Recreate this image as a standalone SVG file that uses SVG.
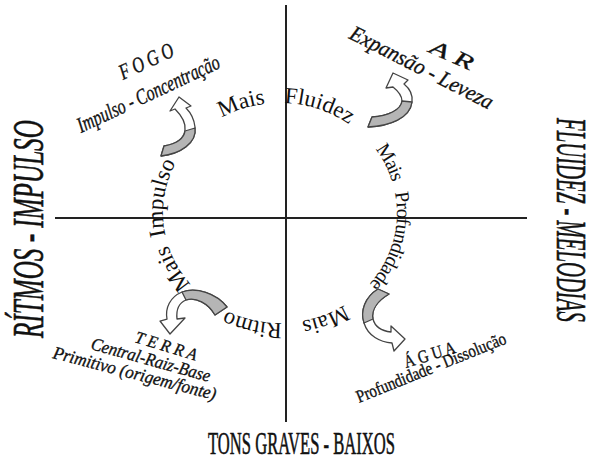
<svg xmlns="http://www.w3.org/2000/svg" width="596" height="460" viewBox="0 0 596 460">
<style>
.t{font-family:"Liberation Serif","DejaVu Serif","Times New Roman",serif;fill:#111}
.i{font-style:italic}
.h{stroke:#111;stroke-width:0.6}
.hs{stroke:#111;stroke-width:0.35}
.ax{stroke:#222;stroke-width:2}
.arw{fill:#fff;stroke:#444;stroke-width:1.3;stroke-linejoin:round}
.gry{fill:#b5b5b5;stroke:#444;stroke-width:1.3;stroke-linejoin:round}
.c{font-size:23px}
.r{font-size:20px;letter-spacing:-0.8px}
</style>
<defs>
<path id="ring" d="M163,213 A117,110 0 0 1 397,213 A117,110 0 0 1 163,213 A117,110 0 0 1 397,213 A117,110 0 0 1 163,213"/>
</defs>
<rect width="596" height="460" fill="#fff"/>
<g id="axes">
<line class="ax" x1="286" y1="5" x2="286" y2="422"/>
<line class="ax" x1="55" y1="218" x2="527" y2="218"/>
</g>
<g id="ring-labels" class="t c">
<text><textPath href="#ring" startOffset="140.6" text-anchor="middle">Mais</textPath></text>
<text><textPath href="#ring" startOffset="217" text-anchor="middle">Fluidez</textPath></text>
<text class="r"><textPath href="#ring" startOffset="306" text-anchor="middle">Mais</textPath></text>
<text class="r"><textPath href="#ring" startOffset="385" text-anchor="middle">Profundidade</textPath></text>
<text><textPath href="#ring" startOffset="490" text-anchor="middle">Mais</textPath></text>
<text><textPath href="#ring" startOffset="561.4" text-anchor="middle">Ritmo</textPath></text>
<text><textPath href="#ring" startOffset="657.2" text-anchor="middle">Mais</textPath></text>
<text><textPath href="#ring" startOffset="727.5" text-anchor="middle">Impulso</textPath></text>
</g>
<g id="arrows">
<g id="arrow-fogo">
<path class="arw" d="M161,156 C180,154 197,143 195,127 C194,118 190,112 186,108 L191,106 L179,97 L170,111 L175,109 C180,114 186,122 185,130 C184,139 175,144 164,146 Z"/>
<path class="gry" d="M161,156 C180,154 197,143 195,128 L185,131 C184,139 175,144 164,146 Z"/>
</g>
<g id="arrow-ar">
<path class="arw" d="M368,127 C390,126 410,118 412,102 C413,94 409,88 404,84 L408,80 L393,73 L386,88 L393,87 C398,91 402,96 402,101 C401,110 388,116 372,117 Z"/>
<path class="gry" d="M368,127 C390,126 410,118 412,102 L402,101 C401,110 388,116 372,117 Z"/>
</g>
<g id="arrow-terra">
<path class="arw" d="M227,307 C216,293 196,287 182,292 C170,297 165,308 167,319 L160,321 L170,334 L185,318 L177,319 C176,310 179,303 186,300 C196,297 208,303 215,315 Z"/>
<path class="gry" d="M227,307 C216,293 196,287 182,292 L186,300 C196,297 208,303 215,315 Z"/>
</g>
<g id="arrow-agua">
<path class="arw" d="M378,289 C365,297 360,311 364,323 C368,336 380,342 392,343 L394,351 L405,339 L391,326 L391,332 C382,331 375,327 373,319 C371,309 379,300 389,294 Z"/>
<path class="gry" d="M378,289 C365,297 360,311 364,323 L373,319 C371,309 379,300 389,294 Z"/>
</g>
</g>
<g id="node-fogo" class="t i hs">
<text transform="translate(123,80) rotate(-25)" font-size="22" textLength="58" lengthAdjust="spacingAndGlyphs">F O G O</text>
<text transform="translate(81,133) rotate(-25)" font-size="22" textLength="155" lengthAdjust="spacingAndGlyphs">Impulso - Concentração</text>
</g>
<g id="node-ar" class="t i hs">
<text transform="translate(428,52) rotate(24)" font-size="21" textLength="46" lengthAdjust="spacingAndGlyphs">A R</text>
<text transform="translate(348,38) rotate(27)" font-size="22" textLength="158" lengthAdjust="spacingAndGlyphs">Expansão - Leveza</text>
</g>
<g id="node-terra" class="t i hs">
<text transform="translate(134,342) rotate(17)" font-size="17" textLength="64" lengthAdjust="spacingAndGlyphs">T E R R A</text>
<text transform="translate(90,349) rotate(15.5)" font-size="18" textLength="123" lengthAdjust="spacingAndGlyphs">Central-Raiz-Base</text>
<text transform="translate(52,358) rotate(14.5)" font-size="18" textLength="168" lengthAdjust="spacingAndGlyphs">Primitivo (origem/fonte)</text>
</g>
<g id="node-agua" class="t hs">
<text transform="translate(406,368) rotate(-17)" font-size="18" textLength="53" lengthAdjust="spacingAndGlyphs">Á G U A</text>
<text transform="translate(359,403) rotate(-22)" font-size="18" textLength="160" lengthAdjust="spacingAndGlyphs">Profundidade - Dissolução</text>
</g>
<g id="axis-left" class="t i h">
<text transform="translate(43,338) rotate(-90) scale(0.56,1)" font-size="45" textLength="389" lengthAdjust="spacingAndGlyphs">RÍTMOS - IMPULSO</text>
</g>
<g id="axis-right" class="t i h">
<text transform="translate(557,118) rotate(90) scale(0.46,1)" font-size="43" textLength="443" lengthAdjust="spacingAndGlyphs">FLUIDEZ - MELODIAS</text>
</g>
<g id="axis-bottom" class="t h">
<text transform="translate(208,454) scale(0.5,1)" font-size="32" textLength="374" lengthAdjust="spacingAndGlyphs">TONS GRAVES - BAIXOS</text>
</g>
</svg>
